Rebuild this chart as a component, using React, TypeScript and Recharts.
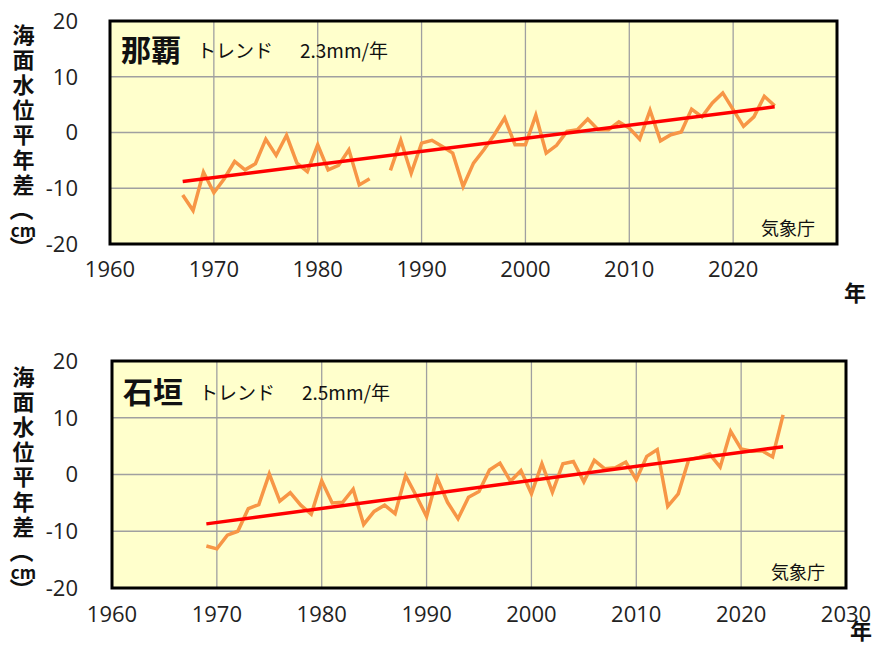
import { LineChart, Line, XAxis, YAxis, CartesianGrid, ReferenceArea } from "recharts";

// 年
const NAHA_YEARS = [
  1967, 1968, 1969, 1970, 1971, 1972, 1973, 1974, 1975, 1976, 1977, 1978, 1979, 1980, 1981,
  1982, 1983, 1984, 1985, 1986, 1987, 1988, 1989, 1990, 1991, 1992, 1993, 1994, 1995, 1996,
  1997, 1998, 1999, 2000, 2001, 2002, 2003, 2004, 2005, 2006, 2007, 2008, 2009, 2010, 2011,
  2012, 2013, 2014, 2015, 2016, 2017, 2018, 2019, 2020, 2021, 2022, 2023, 2024,
];
// 那覇 海面水位平年差 (cm)、1986年は欠測
const NAHA_LEVEL = [
  -11.2, -14.0, -7.1, -10.8, -8.3, -5.2, -6.7, -5.6, -1.2, -4.1, -0.5, -5.5, -7.0, -2.2, -6.7,
  -5.9, -3.1, -9.4, -8.3, null, -6.8, -1.4, -7.3, -1.9, -1.4, -2.5, -3.7, -9.7, -5.5, -3.1,
  -0.4, 2.6, -2.2, -2.2, 3.1, -3.7, -2.3, 0.2, 0.5, 2.4, 0.5, 0.5, 1.9, 0.8, -1.2,
  4.0, -1.5, -0.4, 0.1, 4.2, 2.8, 5.3, 7.1, 4.1, 1.1, 2.8, 6.5, 4.8,
];
// トレンド線の両端
const NAHA_TREND_YEARS = [1967, 2024];
const NAHA_TREND = [-8.8, 4.6];

const ISHIGAKI_YEARS = [
  1969, 1970, 1971, 1972, 1973, 1974, 1975, 1976, 1977, 1978, 1979, 1980, 1981, 1982, 1983,
  1984, 1985, 1986, 1987, 1988, 1989, 1990, 1991, 1992, 1993, 1994, 1995, 1996, 1997, 1998,
  1999, 2000, 2001, 2002, 2003, 2004, 2005, 2006, 2007, 2008, 2009, 2010, 2011, 2012, 2013,
  2014, 2015, 2016, 2017, 2018, 2019, 2020, 2021, 2022, 2023, 2024,
];
const ISHIGAKI_LEVEL = [
  -12.6, -13.1, -10.7, -10.0, -6.0, -5.3, 0.1, -4.7, -3.2, -5.4, -7.0, -1.1, -5.0, -4.9, -2.6,
  -8.8, -6.5, -5.4, -6.9, -0.2, -3.7, -7.4, -0.6, -4.9, -7.8, -4.0, -3.0, 0.8, 2.0, -1.2,
  0.7, -3.4, 1.9, -3.1, 1.9, 2.3, -1.3, 2.5, 1.0, 1.2, 2.2, -0.9, 3.2, 4.4, -5.6,
  -3.4, 2.6, 3.0, 3.6, 1.3, 7.6, 4.5, 4.1, 4.2, 3.1, 10.5,
];
const ISHIGAKI_TREND_YEARS = [1969, 2024];
const ISHIGAKI_TREND = [-8.7, 4.9];

const TOP_X_TICKS = [1960, 1970, 1980, 1990, 2000, 2010, 2020];
const BOTTOM_X_TICKS = [1960, 1970, 1980, 1990, 2000, 2010, 2020, 2030];
const Y_TICKS = [-20, -10, 0, 10, 20];
const Y_LABEL = ["海", "面", "水", "位", "平", "年", "差"];

function buildRows(years: number[], level: (number | null)[], trendYears: number[], trend: number[]) {
  return years.map((year, i) => {
    const t = trendYears.indexOf(year);
    return { year, level: level[i], trend: t >= 0 ? trend[t] : null };
  });
}

const tickStyle = { fontSize: 22, fill: "#222", fontFamily: "'Open Sans', sans-serif" };

function Panel(props: {
  top: number;
  height: number;
  margin: { top: number; right: number; bottom: number; left: number };
  yWidth: number;
  xTickGap: number;
  yTickGap: number;
  xTicks: number[];
  rows: { year: number; level: number | null; trend: number | null }[];
}) {
  return (
    <div style={{ position: "absolute", left: 0, top: props.top }}>
      <LineChart width={873} height={props.height} data={props.rows} margin={props.margin}>
        <CartesianGrid fill="#FFFFCC" stroke="#A0A0A0" strokeWidth={1.3} />
        <XAxis
          dataKey="year"
          type="number"
          domain={[1960, 2030]}
          ticks={props.xTicks}
          interval={0}
          axisLine={false}
          tickLine={false}
          tickSize={0}
          tickMargin={props.xTickGap}
          height={40}
          tick={tickStyle}
        />
        <YAxis
          domain={[-20, 20]}
          ticks={Y_TICKS}
          interval={0}
          axisLine={false}
          tickLine={false}
          tickSize={0}
          tickMargin={props.yTickGap}
          width={props.yWidth}
          tick={tickStyle}
        />
        <ReferenceArea x1={1960} x2={2030} y1={-20} y2={20} fill="none" stroke="#000" strokeWidth={3} ifOverflow="visible" />
        <Line dataKey="level" stroke="#F79646" strokeWidth={3.5} dot={false} connectNulls={false} isAnimationActive={false} />
        <Line dataKey="trend" stroke="#FF0000" strokeWidth={3.5} dot={false} connectNulls isAnimationActive={false} />
      </LineChart>
    </div>
  );
}

function Labels(props: { oy: number; name: string; trend: string; jmaX: number; jmaY: number; yearX: number; yearY: number; titleX: number }) {
  const cjk = "'Noto Sans CJK JP', sans-serif";
  const { oy } = props;
  return (
    <g fontFamily={cjk} fill="#111">
      <text x={props.titleX} y={oy + 48} fontSize={30} fontWeight="bold" dominantBaseline="central">
        {props.name}
      </text>
      <text x={props.titleX + 76} y={oy + 49} fontSize={19} dominantBaseline="central">
        トレンド
      </text>
      <text x={props.titleX + 179} y={oy + 49} fontSize={19} dominantBaseline="central">
        {props.trend}
      </text>
      <text x={props.jmaX} y={props.jmaY} fontSize={18} dominantBaseline="central">
        気象庁
      </text>
      <text x={props.yearX} y={props.yearY} fontSize={22} fontWeight="bold" textAnchor="middle" dominantBaseline="central">
        年
      </text>
      {Y_LABEL.map((c, i) => (
        <text key={c} x={23.5} y={oy + 33 + i * 25} fontSize={22} fontWeight="bold" textAnchor="middle" dominantBaseline="central">
          {c}
        </text>
      ))}
      <text
        x={23.5}
        y={oy + 209}
        fontSize={24}
        fontWeight="bold"
        textAnchor="middle"
        dominantBaseline="central"
        transform={`rotate(90 23.5 ${oy + 209})`}
      >
        （
      </text>
      <text x={23.5} y={oy + 229} fontSize={17} fontWeight="bold" textAnchor="middle" dominantBaseline="central">
        cm
      </text>
      <text
        x={23.5}
        y={oy + 248}
        fontSize={24}
        fontWeight="bold"
        textAnchor="middle"
        dominantBaseline="central"
        transform={`rotate(90 23.5 ${oy + 248})`}
      >
        ）
      </text>
    </g>
  );
}

export default function App() {
  const nahaRows = buildRows(NAHA_YEARS, NAHA_LEVEL, NAHA_TREND_YEARS, NAHA_TREND);
  const ishigakiRows = buildRows(ISHIGAKI_YEARS, ISHIGAKI_LEVEL, ISHIGAKI_TREND_YEARS, ISHIGAKI_TREND);
  return (
    <div style={{ position: "absolute", left: 0, top: 0, width: 873, height: 646, background: "#fff", overflow: "hidden" }}>
      <Panel
        top={0}
        height={320}
        margin={{ top: 21, right: 36, bottom: 36, left: 0 }}
        yWidth={110}
        xTickGap={17}
        yTickGap={32}
        xTicks={TOP_X_TICKS}
        rows={nahaRows}
      />
      <Panel
        top={330}
        height={316}
        margin={{ top: 31, right: 27, bottom: 18, left: 0 }}
        yWidth={112}
        xTickGap={18}
        yTickGap={34}
        xTicks={BOTTOM_X_TICKS}
        rows={ishigakiRows}
      />
      <svg width={873} height={646} style={{ position: "absolute", left: 0, top: 0, pointerEvents: "none" }}>
        <Labels oy={0} name="那覇" trend="2.3mm/年" titleX={121} jmaX={761} jmaY={227} yearX={855} yearY={291} />
        <Labels oy={342} name="石垣" trend="2.5mm/年" titleX={123} jmaX={771} jmaY={571} yearX={861} yearY={629} />
      </svg>
    </div>
  );
}
